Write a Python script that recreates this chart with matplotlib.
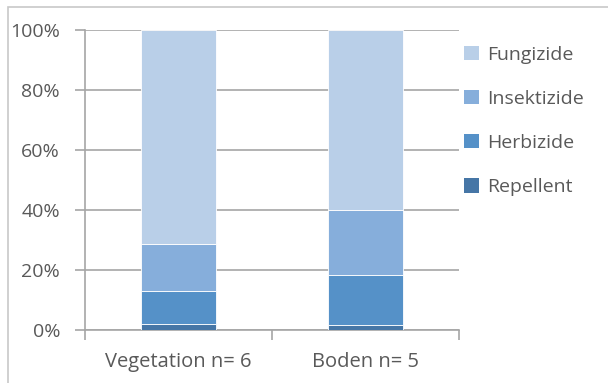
import matplotlib
matplotlib.use('Agg')
import matplotlib.pyplot as plt
from matplotlib.patches import Rectangle, Patch

# Anteile der Wirkstoffgruppen je Probenart (%)
kategorien = ['Vegetation n= 6', 'Boden n= 5']
repellent = [2.0, 1.8]
herbizide = [11.0, 16.4]
insektizide = [15.7, 21.8]
fungizide = [71.3, 60.0]

gruppen = ['Repellent', 'Herbizide', 'Insektizide', 'Fungizide']
farben = ['#4676a6', '#5591c8', '#86aedb', '#b9cfe8']
textfarbe = '#595959'

plt.rcParams['font.family'] = ['Open Sans', 'DejaVu Sans']

fig = plt.figure(figsize=(6.08, 3.83), dpi=100)
# Rahmen um das Diagramm
fig.patches.append(Rectangle((8 / 608, -0.1), 1.2, (383 - 7) / 383 + 0.1,
                             transform=fig.transFigure, fill=False,
                             edgecolor='#c8c8c8', linewidth=1.2))

ax = fig.add_axes([85 / 608, 53 / 383, (459 - 85) / 608, 300 / 383])

x = [0, 1]
unten = [0, 0]
for werte, farbe in zip([repellent, herbizide, insektizide, fungizide], farben):
    ax.bar(x, werte, width=0.4, bottom=unten, color=farbe,
           edgecolor='white', linewidth=0.6, zorder=3)
    unten = [u + w for u, w in zip(unten, werte)]

ax.set_xlim(-0.5, 1.5)
ax.set_ylim(0, 100)
ax.set_yticks(range(0, 101, 20))
ax.set_yticklabels([f'{v}%' for v in range(0, 101, 20)])
ax.yaxis.grid(True, color='#a6a6a6', linewidth=1.2, zorder=0)

ax.set_xticks([-0.5, 0.5, 1.5])
ax.set_xticklabels([])
ax.set_xticks(x, minor=True)
ax.set_xticklabels(kategorien, minor=True)
ax.tick_params(axis='x', which='minor', length=0, pad=16,
               labelsize=14.5, labelcolor=textfarbe)
ax.tick_params(axis='x', which='major', length=7, color='#a6a6a6', width=1.2)
ax.tick_params(axis='y', length=7, color='#a6a6a6', width=1.2, pad=11,
               labelsize=14, labelcolor=textfarbe)

for s in ['top', 'right']:
    ax.spines[s].set_visible(False)
for s in ['left', 'bottom']:
    ax.spines[s].set_color('#a6a6a6')
    ax.spines[s].set_linewidth(1.2)

handles = [Patch(facecolor=f, edgecolor='none') for f in farben][::-1]
leg = fig.legend(handles, gruppen[::-1], loc='upper left',
                 bbox_to_anchor=(446 / 608, 1 - 28 / 383), frameon=False,
                 fontsize=14, labelcolor=textfarbe, handlelength=0.8,
                 handleheight=0.8, handletextpad=0.4, labelspacing=1.33)

fig.savefig('out.png', dpi=100)
